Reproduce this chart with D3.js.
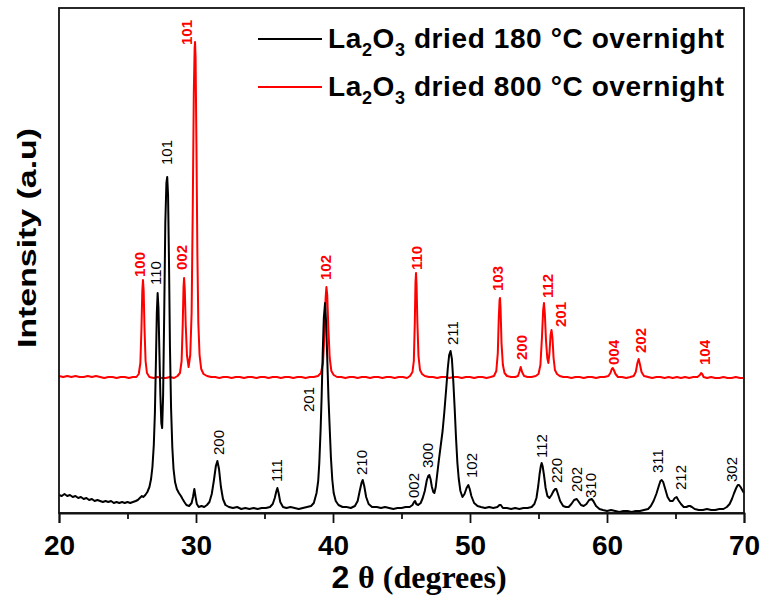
<!DOCTYPE html>
<html><head><meta charset="utf-8">
<script src="https://cdn.jsdelivr.net/npm/d3@7"></script>
<style>body{margin:0;background:#fff} svg{display:block}</style>
</head><body>
<svg id="c" width="763" height="598"></svg>
<script>
// ---- data ----
const xTicks = [20, 30, 40, 50, 60, 70];
const xMinorTicks = [25, 35, 45, 55, 65];
const seriesNames = ["180", "800"];
const seriesColors = ["#000000", "#ff0000"];

// La2O3 dried 180 °C: [2θ, intensity]
const pattern180 = [
[20.0,18],[20.2,17],[20.4,19],[20.6,17],[20.8,18],[21.0,16],[21.2,17],[21.4,15],[21.6,16],[21.8,14],[22.0,15],[22.2,13],[22.4,14],[22.6,12],[22.8,13],[23.0,12],[23.2,11],[23.4,12],[23.6,11],[23.8,12],[24.0,10],[24.2,11],[24.4,10],[24.6,11],[24.8,10],[25.0,11],[25.2,10],[25.4,11],[25.6,12],[25.75,13],[25.9,15],[26.05,17],[26.15,16],[26.3,18],[26.45,21],
[26.6,26],[26.72,34],[26.82,46],[26.92,68],[27.0,100],[27.08,155],[27.14,200],[27.2,220],[27.26,205],[27.33,160],[27.4,118],[27.47,90],[27.53,85],[27.6,118],[27.68,200],[27.76,290],[27.84,330],[27.9,336],[27.96,318],[28.03,250],[28.1,165],[28.18,105],[28.27,66],[28.36,44],[28.47,31],[28.6,24],[28.75,20],[28.9,17],[29.02,14],[29.15,11],[29.3,8],[29.5,7],[29.68,10],[29.78,16],[29.88,24],[29.97,16],[30.06,9],[30.2,6],[30.4,7],[30.6,6],[30.8,8],[30.98,11],[31.15,19],[31.3,32],[31.45,47],[31.56,52],[31.68,44],[31.82,26],[31.97,14],[32.15,8],[32.4,6],
[32.7,5],[33.0,6],[33.3,4],[33.6,5],[33.9,4],[34.2,5],[34.5,4],[34.8,5],[35.1,5],[35.4,6],[35.6,9],[35.75,15],[35.87,22],[35.94,25],[36.03,20],[36.15,11],[36.35,6],[36.6,5],[36.9,6],[37.2,5],[37.5,4],[37.8,5],[38.1,6],[38.4,7],[38.6,10],[38.8,20],[38.92,32],[39.0,50],[39.1,85],[39.17,116],[39.25,160],[39.33,195],[39.42,210],[39.5,190],[39.58,155],[39.67,115],[39.75,88],[39.85,55],[39.95,33],[40.05,20],[40.2,12],[40.4,8],[40.7,6],[41.0,6],[41.3,5],[41.6,7],[41.8,12],[41.95,22],[42.08,30],[42.17,33],[42.28,27],[42.42,16],[42.6,9],[42.85,6],[43.2,6],[43.5,5],[43.8,6],[44.1,5],[44.4,4],[44.7,5],[45.0,5],[45.3,6],[45.6,6],[45.8,8],[45.92,11],[45.99,12],[46.08,9],[46.22,8],[46.4,10],
[46.55,15],[46.7,22],[46.85,33],[46.95,37],[47.03,38],[47.12,34],[47.22,26],[47.32,21],[47.4,20],[47.5,26],[47.6,38],[47.72,52],[47.85,66],[48.0,82],[48.12,100],[48.25,122],[48.38,145],[48.48,158],[48.58,162],[48.68,154],[48.78,132],[48.88,105],[48.98,75],[49.08,50],[49.18,34],[49.3,22],[49.45,16],[49.6,19],[49.75,25],[49.88,28],[49.98,24],[50.1,17],[50.3,10],[50.55,7],[50.8,6],[51.1,5],[51.4,6],[51.7,5],[52.0,6],[52.15,8],[52.25,8],[52.4,5],[52.7,5],[53.0,4],[53.3,5],[53.6,4],[53.9,5],[54.2,5],[54.5,6],[54.7,9],[54.85,15],[54.98,27],[55.08,39],[55.17,47],[55.23,50],[55.3,47],[55.4,38],[55.52,25],[55.65,17],[55.8,15],[55.95,18],[56.1,22],[56.22,24],[56.3,24],[56.42,19],[56.58,12],[56.8,7],[57.0,6],[57.2,6],[57.4,9],[57.6,13],[57.79,14],[57.95,11],[58.1,8],[58.3,7],[58.5,9],[58.7,13],[58.88,14],[59.0,12],[59.2,7],[59.45,4],[59.7,3],[60.0,2],[60.3,3],[60.6,2],[60.9,1],[61.2,2],[61.5,2],[61.8,1],[62.1,2],[62.4,2],[62.7,3],[63.0,4],[63.2,7],[63.4,12],[63.6,19],[63.78,27],[63.9,32],[63.99,33],[64.1,31],[64.25,24],[64.42,16],[64.6,12],[64.8,12],[64.95,15],[65.08,16],[65.2,13],[65.4,9],[65.6,6],[65.8,6],[65.95,7],[66.06,7],[66.2,6],[66.4,4],[66.7,3],[67.0,3],[67.3,4],[67.6,3],[67.9,3],[68.2,4],[68.5,4],[68.75,6],[68.95,9],[69.12,14],[69.28,20],[69.43,25],[69.55,28],[69.64,28],[69.75,26],[69.87,23],[70.0,20]
];

// La2O3 dried 800 °C: [2θ, intensity]
const pattern800 = [
[20.0,137],[20.3,136],[20.6,137],[20.9,136],[21.2,137],[21.5,136],[21.8,136],[22.1,137],[22.4,136],[22.7,137],[23.0,136],[23.3,135],[23.6,136],[23.9,136],[24.2,135],[24.5,136],[24.8,136],[25.1,135],[25.4,136],[25.65,136],[25.82,139],[25.94,150],[26.02,185],[26.08,222],[26.13,233],[26.18,222],[26.24,185],[26.32,152],[26.42,140],[26.6,136],[26.9,135],[27.2,136],[27.5,135],[27.8,135],[28.1,136],[28.4,135],[28.65,137],[28.83,140],[28.95,152],[29.03,188],[29.09,226],[29.13,235],[29.18,224],[29.25,188],[29.34,158],[29.46,146],[29.58,158],[29.68,200],[29.76,300],[29.84,420],[29.9,465],[29.93,471],[29.97,455],[30.03,370],[30.1,260],[30.17,190],[30.26,158],[30.38,144],[30.55,139],[30.8,137],[31.1,136],[31.4,136],[31.7,135],[32.0,136],[32.3,136],[32.6,135],[32.9,136],[33.2,136],[33.5,135],[33.8,136],[34.1,136],[34.4,135],[34.7,136],[35.0,136],[35.3,135],[35.6,136],[35.9,136],[36.2,135],[36.5,136],[36.8,136],[37.1,135],[37.4,136],[37.7,136],[38.0,135],[38.3,136],[38.6,136],[38.9,137],[39.12,140],[39.27,150],[39.38,180],[39.46,215],[39.52,226],[39.58,218],[39.66,185],[39.76,155],[39.88,142],[40.05,138],[40.3,136],[40.6,136],[40.9,135],[41.2,136],[41.5,136],[41.8,135],[42.1,136],[42.4,136],[42.7,135],[43.0,136],[43.3,136],[43.6,135],[43.9,136],[44.2,136],[44.5,135],[44.8,136],[45.1,136],[45.4,135],[45.62,137],[45.8,141],[45.9,152],[45.97,190],[46.02,230],[46.06,240],[46.1,228],[46.16,190],[46.24,157],[46.35,143],[46.5,139],[46.7,137],[47.0,136],[47.3,136],[47.6,135],[47.9,136],[48.2,136],[48.5,135],[48.8,136],[49.1,136],[49.4,135],[49.7,136],[50.0,136],[50.3,135],[50.6,136],[50.9,136],[51.2,135],[51.5,136],[51.75,137],[51.92,142],[52.03,160],[52.1,195],[52.16,213],[52.19,215],[52.23,205],[52.3,170],[52.4,148],[52.52,140],[52.7,137],[53.0,136],[53.3,136],[53.5,137],[53.6,141],[53.7,146],[53.8,141],[53.95,137],[54.2,136],[54.5,136],[54.8,137],[55.0,139],[55.14,148],[55.25,175],[55.34,203],[55.4,210],[55.46,200],[55.55,172],[55.64,155],[55.72,150],[55.8,160],[55.88,178],[55.95,183],[56.02,175],[56.1,155],[56.2,143],[56.35,139],[56.55,137],[56.8,136],[57.1,136],[57.4,135],[57.7,136],[58.0,136],[58.3,135],[58.6,136],[58.9,136],[59.2,135],[59.5,136],[59.8,136],[60.1,137],[60.25,140],[60.35,144],[60.42,145],[60.5,143],[60.62,139],[60.8,136],[61.1,136],[61.4,135],[61.7,136],[61.95,137],[62.1,141],[62.22,150],[62.31,154],[62.4,149],[62.52,141],[62.7,137],[63.0,136],[63.3,135],[63.6,136],[63.9,136],[64.2,135],[64.5,136],[64.8,135],[65.1,136],[65.4,135],[65.7,136],[66.0,135],[66.3,136],[66.6,136],[66.78,138],[66.87,140],[66.95,139],[67.05,136],[67.3,135],[67.6,136],[67.9,135],[68.2,135],[68.5,136],[68.8,135],[69.1,135],[69.4,136],[69.7,135],[70.0,135]
];

// peak labels (hkl), label anchor [2θ, intensity]
const hkl180 = ["110","101","200","111","201","210","002","300","211","102","112","220","202","310","311","212","302"];
const hkl180At = [[27.01,228],[27.88,348],[31.61,58],[35.91,31],[38.18,101],[42.09,38],[45.84,15],[46.93,45],[48.74,168],[50.12,35],[55.23,55],[56.28,30],[57.74,21],[58.76,15],[63.72,40],[65.33,23],[69.10,31]];
const hkl800 = ["100","002","101","102","110","103","200","112","201","004","202","104"];
const hkl800At = [[25.86,236],[28.96,243],[29.32,468],[39.42,233],[46.11,243],[52.01,222],[53.77,153],[55.69,215],[56.57,186],[60.44,148],[62.41,160],[67.15,148]];

const xTitleNum = "2";
const xTitleRest = "θ (degrees)";
const yTitle = "Intensity (a.u)";

// ---- drawing ----
const svg = d3.select("#c");
const W = 763, H = 598;
const m = {l: 59, r: 19, t: 8, b: 85};
const x = d3.scaleLinear().domain([20, 70]).range([m.l, W - m.r]);
const y = d3.scaleLinear().domain([0, 505]).range([H - m.b, m.t]);

const line = d3.line().x(d => x(d[0])).y(d => y(d[1])).curve(d3.curveLinear);

svg.append("path").datum(pattern800).attr("d", line)
  .attr("fill", "none").attr("stroke", seriesColors[1]).attr("stroke-width", 2).attr("stroke-linejoin", "round");
svg.append("path").datum(pattern180).attr("d", line)
  .attr("fill", "none").attr("stroke", seriesColors[0]).attr("stroke-width", 2).attr("stroke-linejoin", "round");

// frame
svg.append("rect").attr("x", x(20)).attr("y", y(505)).attr("width", x(70) - x(20)).attr("height", y(0) - y(505))
  .attr("fill", "none").attr("stroke", "#111").attr("stroke-width", 1.8);

// x axis
const ax = svg.append("g").attr("transform", `translate(0,${y(0)})`)
  .call(d3.axisBottom(x).tickValues(xTicks).tickSize(10).tickFormat(d3.format("d")));
ax.select(".domain").attr("stroke", "#111").attr("stroke-width", 1.8);
ax.selectAll(".tick line").attr("stroke", "#111").attr("stroke-width", 1.8);
ax.selectAll(".tick text").attr("font-family", "Liberation Sans, Arial, sans-serif").attr("font-weight", "bold")
  .attr("font-size", 28).attr("fill", "#000").attr("dy", null).attr("y", 42);
const axm = svg.append("g").attr("transform", `translate(0,${y(0)})`)
  .call(d3.axisBottom(x).tickValues(xMinorTicks).tickSize(6).tickFormat(""));
axm.select(".domain").remove();
axm.selectAll(".tick line").attr("stroke", "#111").attr("stroke-width", 1.8);

// x title
const xt = svg.append("text").attr("x", 419).attr("y", 588).attr("text-anchor", "middle")
  .attr("font-size", 32).attr("font-weight", "bold").attr("fill", "#000");
xt.append("tspan").attr("font-family", "Liberation Sans, Arial, sans-serif").text(xTitleNum + " ");
xt.append("tspan").attr("font-family", "Liberation Serif, Times New Roman, serif").text(xTitleRest);

// y title
svg.append("text").attr("transform", "translate(36,238) rotate(-90)").attr("text-anchor", "middle")
  .attr("font-family", "Liberation Sans, Arial, sans-serif").attr("font-weight", "bold").attr("font-size", 26)
  .attr("textLength", 220).attr("lengthAdjust", "spacingAndGlyphs").text(yTitle);

// peak labels
function labels(names, at, color, weight) {
  svg.append("g").selectAll("text").data(names).join("text")
    .attr("transform", (d, i) => `translate(${x(at[i][0])},${y(at[i][1])}) rotate(-90)`)
    .attr("dominant-baseline", "central").attr("text-anchor", "start")
    .attr("font-family", "Liberation Sans, Arial, sans-serif").attr("font-size", 15)
    .attr("font-weight", weight).attr("fill", color).text(d => d);
}
labels(hkl180, hkl180At, seriesColors[0], "normal");
labels(hkl800, hkl800At, seriesColors[1], "bold");

// legend
const legY = [39, 87];
const lg = svg.append("g");
seriesNames.forEach((t, i) => {
  lg.append("line").attr("x1", 258).attr("x2", 322).attr("y1", legY[i]).attr("y2", legY[i])
    .attr("stroke", seriesColors[i]).attr("stroke-width", 2);
  const tx = lg.append("text").attr("x", 328).attr("y", legY[i] + 9)
    .attr("font-family", "Liberation Sans, Arial, sans-serif").attr("font-weight", "bold").attr("font-size", 28)
    .attr("letter-spacing", 0.6).attr("fill", "#000");
  tx.append("tspan").text("La");
  tx.append("tspan").attr("font-size", 18).attr("dy", 8).text("2");
  tx.append("tspan").attr("dy", -8).text("O");
  tx.append("tspan").attr("font-size", 18).attr("dy", 8).text("3");
  tx.append("tspan").attr("dy", -8).text(` dried ${t} °C overnight`);
});
</script>
</body></html>
